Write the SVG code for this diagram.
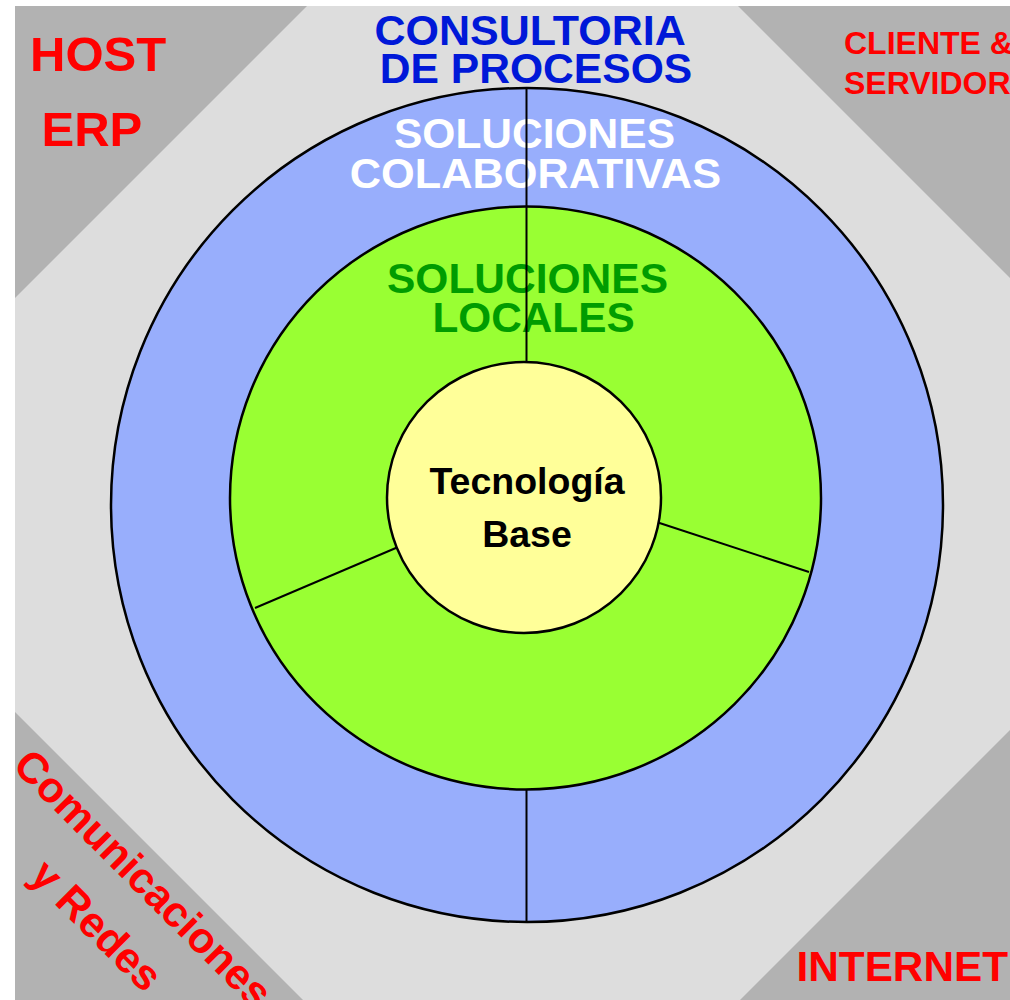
<svg xmlns="http://www.w3.org/2000/svg" width="1010" height="1000" viewBox="0 0 1010 1000">
<style>
.bg{fill:#dddddd}
.corner{fill:#b2b2b2}
.ring{stroke:#000;stroke-width:2.5}
.t{font-family:"Liberation Sans",Arial,sans-serif;font-weight:bold}
.red{fill:#ff0000}
.blue{fill:#0018d8}
.white{fill:#ffffff}
.green{fill:#009c00}
.black{fill:#000}
.conn{stroke:#000;stroke-width:2;fill:none}
</style>
<defs>
<clipPath id="page"><rect x="15" y="6" width="995" height="994"/></clipPath>
</defs>
<rect width="1010" height="1000" fill="#fff"/>
<g id="background">
<rect class="bg" x="15" y="6" width="995" height="994"/>
<polygon class="corner" points="15,6 307,6 15,298"/>
<polygon class="corner" points="738,6 1010,6 1010,278"/>
<polygon class="corner" points="15,712 15,1000 303,1000"/>
<polygon class="corner" points="1010,730 1010,1000 740,1000"/>
</g>
<g id="host-erp">
<text class="t red" x="30" y="71" font-size="49">HOST</text>
<text class="t red" x="41.5" y="146" font-size="49">ERP</text>
</g>
<g id="cliente-servidor">
<text class="t red" x="844" y="53.5" font-size="32">CLIENTE &amp;</text>
<text class="t red" x="844" y="94" font-size="32">SERVIDOR</text>
</g>
<g id="comunicaciones" clip-path="url(#page)">
<g transform="translate(133,889) rotate(45)">
<text class="t red" x="0" y="0" font-size="43" text-anchor="middle">Comunicaciones</text>
<text class="t red" x="0" y="66" font-size="43" text-anchor="middle">y Redes</text>
</g>
</g>
<g id="internet">
<text class="t red" x="796.5" y="980.5" font-size="42.3">INTERNET</text>
</g>
<g id="consultoria">
<text class="t blue" x="374.5" y="44.5" font-size="43">CONSULTORIA</text>
<text class="t blue" x="379.8" y="83" font-size="42.6">DE PROCESOS</text>
</g>
<g id="colaborativas">
<ellipse class="ring" cx="527" cy="505" rx="416" ry="417" fill="#98aefc"/>
<text class="t white" x="394" y="148" font-size="42.5">SOLUCIONES</text>
<text class="t white" x="349.8" y="187.5" font-size="43.3">COLABORATIVAS</text>
</g>
<g id="locales">
<ellipse class="ring" cx="525.5" cy="498" rx="295.5" ry="291.5" fill="#99ff33"/>
<text class="t green" x="387" y="293" font-size="42.5">SOLUCIONES</text>
<text class="t green" x="432.5" y="332" font-size="42.3">LOCALES</text>
</g>
<g id="connectors">
<line class="conn" x1="526.5" y1="88" x2="526.5" y2="362"/>
<line class="conn" x1="526.5" y1="789" x2="526.5" y2="922"/>
<line class="conn" x1="255" y1="608" x2="397" y2="547.5"/>
<line class="conn" x1="658" y1="522.5" x2="809" y2="572"/>
</g>
<g id="tecnologia-base">
<ellipse class="ring" cx="524" cy="497.5" rx="137" ry="135.5" fill="#ffff99"/>
<text class="t black" x="527" y="494" font-size="37.5" text-anchor="middle">Tecnología</text>
<text class="t black" x="527" y="547" font-size="37.5" text-anchor="middle">Base</text>
</g>
</svg>
